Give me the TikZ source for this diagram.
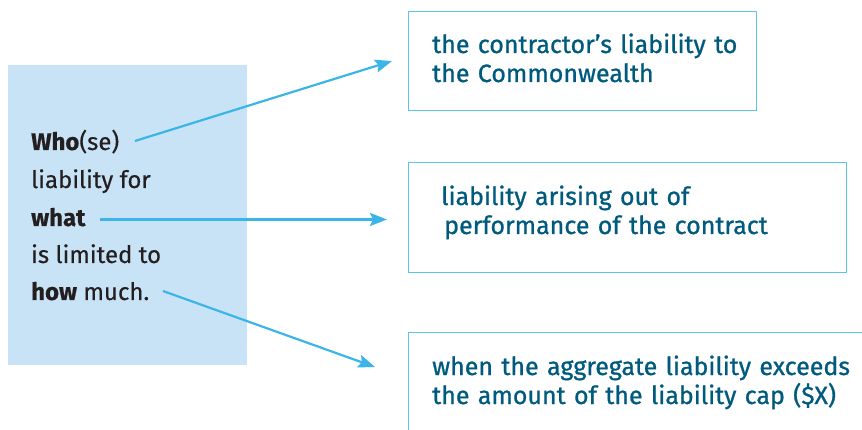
\documentclass[tikz,border=0pt]{standalone}
\usepackage{fontspec}
\setmainfont{Fira Sans}
\newfontfamily\medfont[FakeBold=0.9]{Fira Sans}
\newfontfamily\leftfont[FakeBold=0.4]{Fira Sans}
\usetikzlibrary{arrows.meta}
\definecolor{leftfill}{HTML}{C9E3F6}
\definecolor{arrowblue}{HTML}{3BB5E8}
\definecolor{boxline}{HTML}{5CC3F0}
\definecolor{tealtext}{HTML}{005A7D}
\definecolor{darktext}{HTML}{231F20}
\tikzset{
  lefttext/.style={anchor=base west, inner sep=0pt, text=darktext, font=\leftfont\fontsize{24}{25}\selectfont},
  righttext/.style={anchor=base west, inner sep=0pt, text=tealtext, text width=440pt, align=left, font=\medfont\fontsize{25}{29}\selectfont},
  rbox/.style={draw=boxline, line width=1.3pt, anchor=north west, inner sep=0pt},
  conn/.style={draw=arrowblue, line width=2.2pt, -{Stealth[length=17pt,width=13pt,inset=3pt]}}
}
\begin{document}
\begin{tikzpicture}[x=1pt,y=-1pt]
\useasboundingbox (0,0) rectangle (862,430);
\fill[leftfill] (8,65) rectangle (247,365);
\node[lefttext] (who) at (31,150) {\textbf{Who}(se)};
\node[lefttext] (l2) at (31,188) {liability for};
\node[lefttext] (what) at (31,226) {\textbf{what}};
\node[lefttext] (l4) at (31,263) {is limited to};
\node[lefttext] (how) at (31,300) {\textbf{how} much.};
\node[rbox, minimum width=348pt, minimum height=99pt] (b1) at (408,11) {};
\node[rbox, minimum width=438pt, minimum height=110pt] (b2) at (408,162) {};
\node[rbox, minimum width=470pt, minimum height=110pt] (b3) at (408,332) {};
\node[righttext] (t1) at (432,53) {the contractor’s liability to\\the Commonwealth};
\node[righttext] (t2) at (441,205) {liability arising out of\\\hspace*{3pt}performance of the contract};
\node[righttext] (t3) at (432,375) {when the aggregate liability exceeds\\the amount of the liability cap (\$X)};
\coordinate (s1) at (135,141);
\coordinate (e1) at (392,61);
\coordinate (s2) at (100,219.5);
\coordinate (e2) at (387,219.5);
\coordinate (s3) at (163,291);
\coordinate (e3) at (375,367);
\draw[conn] (s1) -- (e1);
\draw[conn] (s2) -- (e2);
\draw[conn] (s3) -- (e3);
\end{tikzpicture}
\end{document}
